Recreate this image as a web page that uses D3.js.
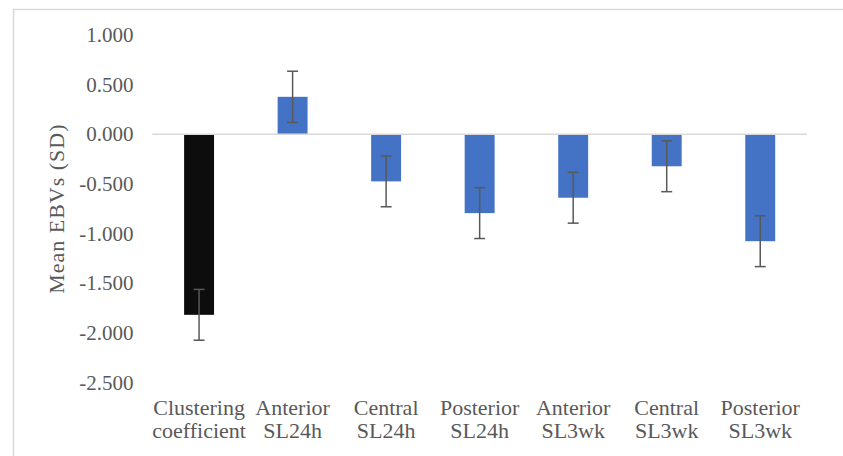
<!DOCTYPE html>
<html><head><meta charset="utf-8">
<script src="https://cdn.jsdelivr.net/npm/d3@7"></script>
<style>body{margin:0;background:#fff}svg{display:block}</style>
</head><body>
<svg id="c" width="843" height="456"></svg>
<script>
const categories = ["Clustering coefficient","Anterior SL24h","Central SL24h","Posterior SL24h","Anterior SL3wk","Central SL3wk","Posterior SL3wk"];
const labelLines = [["Clustering","coefficient"],["Anterior","SL24h"],["Central","SL24h"],["Posterior","SL24h"],["Anterior","SL3wk"],["Central","SL3wk"],["Posterior","SL3wk"]];
const values = [-1.82, 0.377, -0.475, -0.795, -0.64, -0.323, -1.078];
const errors = [0.256, 0.258, 0.256, 0.256, 0.256, 0.256, 0.256];
const barColors = ["#0d0d0d","#4472c4","#4472c4","#4472c4","#4472c4","#4472c4","#4472c4"];
const yTicks = [1, 0.5, 0, -0.5, -1, -1.5, -2, -2.5];
const yTitle = "Mean EBVs (SD)";

const svg = d3.select("#c");
const font = "'Liberation Serif','Times New Roman',serif";
const textColor = "#595959";

// chart border
svg.append("rect").attr("x",13.5).attr("y",9.5).attr("width",900).attr("height",500)
  .attr("fill","none").attr("stroke","#d9d9d9").attr("stroke-width",1.5);

const x = d3.scaleBand().domain(categories).range([152.3, 807]).paddingInner(0.68).paddingOuter(0.34);
const y = d3.scaleLinear().domain([1, -2.5]).range([35, 382.3]);

// y tick labels
const yAxis = d3.axisLeft(y).tickValues(yTicks).tickFormat(d => d.toFixed(3)).tickSize(0).tickPadding(0);
const gy = svg.append("g").attr("transform","translate(133.5,0)").call(yAxis);
gy.select(".domain").remove();
gy.selectAll("text").attr("font-family",font).attr("font-size",21).attr("fill",textColor);

// bars
svg.selectAll("rect.bar").data(values).join("rect").attr("class","bar")
  .attr("x",(d,i)=>x(categories[i]))
  .attr("width",x.bandwidth())
  .attr("y",d=>y(Math.max(0,d)))
  .attr("height",d=>Math.abs(y(d)-y(0)))
  .attr("fill",(d,i)=>barColors[i]);

// zero axis line
svg.append("line").attr("x1",152.3).attr("x2",807).attr("y1",y(0)).attr("y2",y(0))
  .attr("stroke","#d9d9d9").attr("stroke-width",1.5);

// error bars
const eg = svg.append("g").attr("stroke","#595959").attr("stroke-width",1.5);
values.forEach((v,i)=>{
  const cx = x(categories[i]) + x.bandwidth()/2;
  const t = y(v+errors[i]), b = y(v-errors[i]);
  eg.append("line").attr("x1",cx).attr("x2",cx).attr("y1",t).attr("y2",b);
  eg.append("line").attr("x1",cx-5.5).attr("x2",cx+5.5).attr("y1",t).attr("y2",t);
  eg.append("line").attr("x1",cx-5.5).attr("x2",cx+5.5).attr("y1",b).attr("y2",b);
});

// x labels
const xl = svg.append("g");
categories.forEach((c,i)=>{
  const cx = x(c) + x.bandwidth()/2;
  labelLines[i].forEach((ln,j)=>{
    xl.append("text").attr("x",cx).attr("y",414.5 + j*23).attr("text-anchor","middle")
      .attr("font-family",font).attr("font-size",22).attr("fill",textColor).text(ln);
  });
});

// y title
svg.append("text").attr("transform",`translate(64,${(y(1)+y(-2.5))/2}) rotate(-90)`)
  .attr("text-anchor","middle").attr("font-family",font).attr("font-size",22).attr("fill",textColor)
  .attr("letter-spacing",1)
  .text(yTitle);
</script>
</body></html>
